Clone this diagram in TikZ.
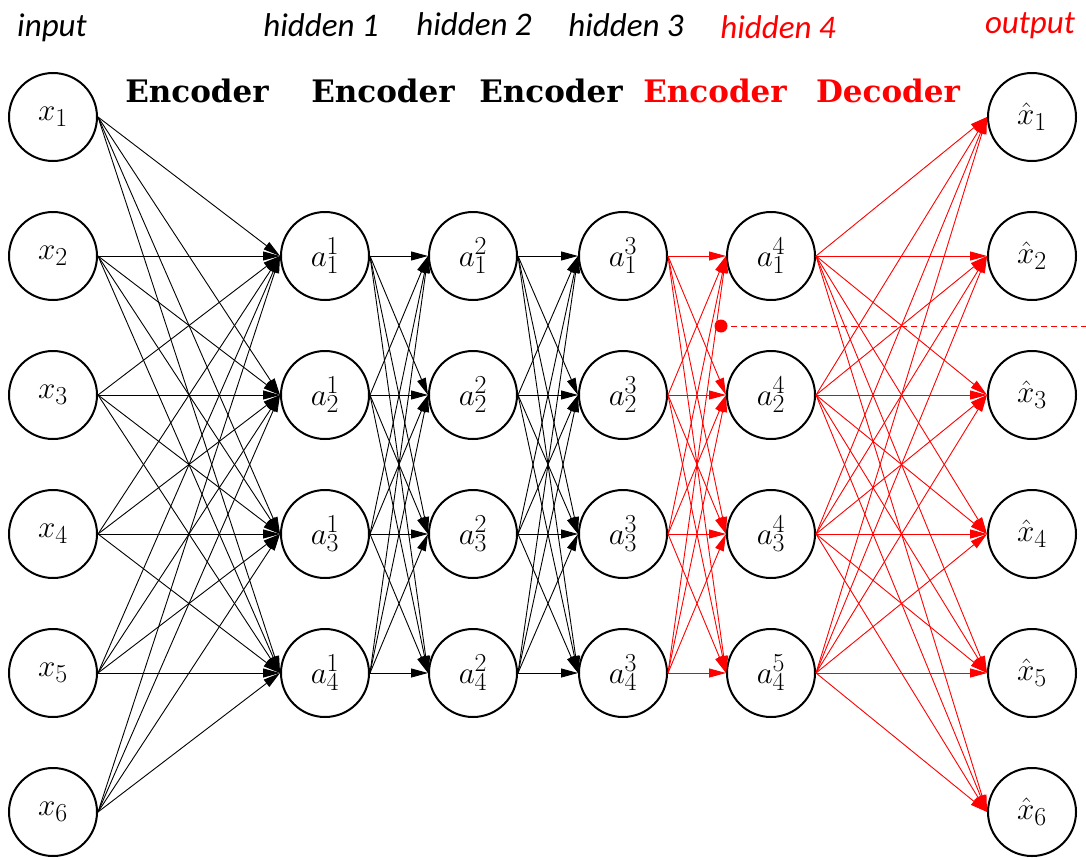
\documentclass[tikz,border=0pt]{standalone}
\usepackage{fontspec}
\newfontfamily\capfont{Carlito}
\newfontfamily\headfont{DejaVu Serif}
\usetikzlibrary{arrows.meta}
\newcommand{\unitlabel}[1]{\scalebox{1.25}{\Huge$#1$}}

\begin{document}
\begin{tikzpicture}[x=1pt,y=-1pt,
  neuron/.style={circle,draw,line width=2pt,minimum size=88pt,inner sep=0pt},
  layertag/.style={anchor=base,font=\capfont\itshape\fontsize{33}{36}\selectfont},
  parttag/.style={anchor=base,font=\headfont\bfseries\fontsize{31}{34}\selectfont},
  link/.style={line width=0.9pt,-{Triangle[length=17pt,width=9pt]}},
  redlink/.style={link,red},
]
\useasboundingbox (0,0) rectangle (1086,859);

% layer captions
\node[layertag] (tIn)  at (52,37)   {input};
\node[layertag] (tH1)  at (321,37)  {hidden 1};
\node[layertag] (tH2)  at (474,36)  {hidden 2};
\node[layertag] (tH3)  at (626,37)  {hidden 3};
\node[layertag,red] (tH4) at (778,39) {hidden 4};
\node[layertag,red] (tOut) at (1030,34) {output};

\node[parttag] (e1) at (197,102) {Encoder};
\node[parttag] (e2) at (383,102) {Encoder};
\node[parttag] (e3) at (551,102) {Encoder};
\node[parttag,red] (e4) at (715,102) {Encoder};
\node[parttag,red] (d1) at (888,102) {Decoder};

% input layer
\foreach \k/\y in {1/117,2/256,3/395,4/534,5/673,6/812}
  \node[neuron] (in\k) at (53,\y) {\unitlabel{x_{\k}}};
% output layer
\foreach \k/\y in {1/117,2/256,3/395,4/534,5/673,6/812}
  \node[neuron] (out\k) at (1032,\y) {\unitlabel{\hat{x}_{\k}}};
% hidden layers 1--3
\foreach \l/\x in {1/325,2/473,3/623}
  \foreach \k/\y in {1/256,2/395,3/534,4/673}
    \node[neuron] (h\l\k) at (\x,\y) {\unitlabel{a^{\l}_{\k}}};
% hidden layer 4
\node[neuron] (h41) at (771,256) {\unitlabel{a^{4}_{1}}};
\node[neuron] (h42) at (771,395) {\unitlabel{a^{4}_{2}}};
\node[neuron] (h43) at (771,534) {\unitlabel{a^{4}_{3}}};
\node[neuron] (h44) at (771,673) {\unitlabel{a^{5}_{4}}};

% encoder connections
\foreach \i in {1,...,6}
  \foreach \j in {1,...,4}
    \draw[link] (in\i.east) -- (h1\j.west);
\foreach \i in {1,...,4}
  \foreach \j in {1,...,4} {
    \draw[link] (h1\i.east) -- (h2\j.west);
    \draw[link] (h2\i.east) -- (h3\j.west);
    \draw[redlink] (h3\i.east) -- (h4\j.west);
  }
% decoder connections
\foreach \i in {1,...,4}
  \foreach \j in {1,...,6}
    \draw[redlink] (h4\i.east) -- (out\j.west);

% dashed marker line
\node[circle,fill=red,inner sep=0pt,minimum size=13pt] (dot) at (721,326) {};
\coordinate (dashEnd) at (1086,326);
\draw[red,line width=1pt,dash pattern=on 6pt off 4pt] (dot.center) -- (dashEnd);
\end{tikzpicture}
\end{document}
